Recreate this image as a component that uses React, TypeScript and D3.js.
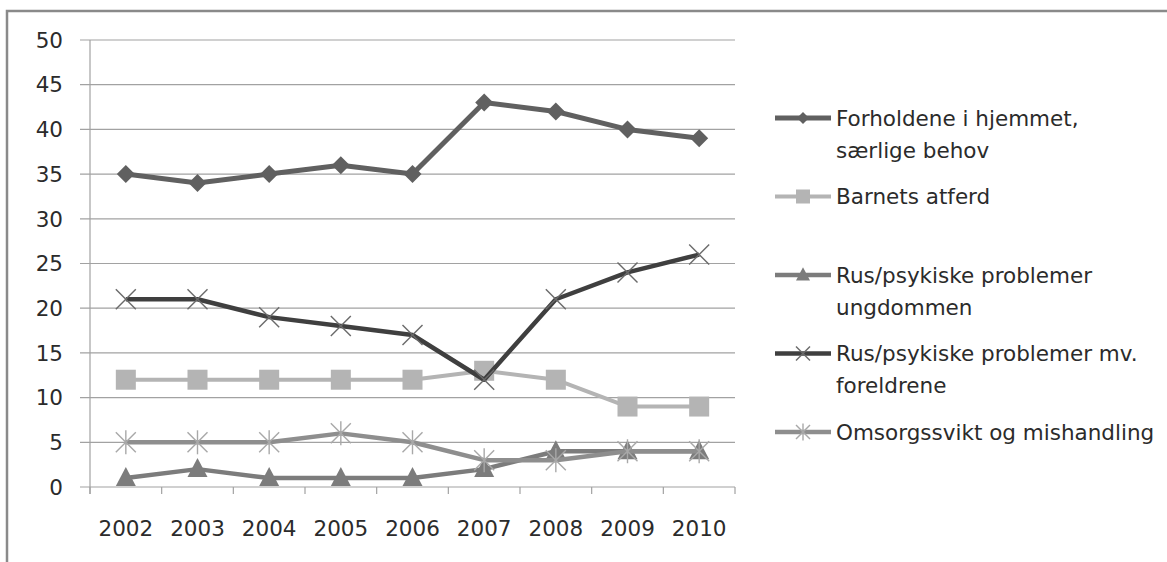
import React from "react";
import * as d3 from "d3";

const years = ["2002", "2003", "2004", "2005", "2006", "2007", "2008", "2009", "2010"];
const forholdene = [35, 34, 35, 36, 35, 43, 42, 40, 39];
const barnetsAtferd = [12, 12, 12, 12, 12, 13, 12, 9, 9];
const rusUngdommen = [1, 2, 1, 1, 1, 2, 4, 4, 4];
const rusForeldrene = [21, 21, 19, 18, 17, 12, 21, 24, 26];
const omsorgssvikt = [5, 5, 5, 6, 5, 3, 3, 4, 4];
const yTicks = [0, 5, 10, 15, 20, 25, 30, 35, 40, 45, 50];

type Marker = "diamond" | "square" | "triangle" | "x" | "star";

const series: { label: string[]; values: number[]; color: string; width: number; marker: Marker; markerColor: string }[] = [
  { label: ["Forholdene i hjemmet,", "særlige behov"], values: forholdene, color: "#606060", width: 5, marker: "diamond", markerColor: "#606060" },
  { label: ["Barnets atferd"], values: barnetsAtferd, color: "#b4b4b4", width: 4, marker: "square", markerColor: "#b4b4b4" },
  { label: ["Rus/psykiske problemer", "ungdommen"], values: rusUngdommen, color: "#7c7c7c", width: 4.5, marker: "triangle", markerColor: "#7c7c7c" },
  { label: ["Rus/psykiske problemer mv.", "foreldrene"], values: rusForeldrene, color: "#3f3f3f", width: 4.5, marker: "x", markerColor: "#6a6a6a" },
  { label: ["Omsorgssvikt og mishandling"], values: omsorgssvikt, color: "#8e8e8e", width: 4.5, marker: "star", markerColor: "#a8a8a8" },
];

const FONT = "'DejaVu Sans', sans-serif";
const FS = 21.5;
const TEXT = "#2b2b2b";

function MarkerShape({ type, x, y, s, color }: { type: Marker; x: number; y: number; s: number; color: string }) {
  switch (type) {
    case "diamond":
      return <path d={`M${x},${y - s}L${x + s},${y}L${x},${y + s}L${x - s},${y}Z`} fill={color} />;
    case "square":
      return <rect x={x - s} y={y - s} width={2 * s} height={2 * s} fill={color} />;
    case "triangle":
      return <path d={`M${x},${y - s * 1.1}L${x + s},${y + s * 0.8}L${x - s},${y + s * 0.8}Z`} fill={color} />;
    case "x":
      return (
        <g stroke={color} strokeWidth={1.4}>
          <line x1={x - s} y1={y - s} x2={x + s} y2={y + s} />
          <line x1={x - s} y1={y + s} x2={x + s} y2={y - s} />
        </g>
      );
    case "star":
      return (
        <g stroke={color} strokeWidth={1.4}>
          <line x1={x - s} y1={y - s} x2={x + s} y2={y + s} />
          <line x1={x - s} y1={y + s} x2={x + s} y2={y - s} />
          <line x1={x} y1={y - s * 1.2} x2={x} y2={y + s * 1.2} />
        </g>
      );
  }
}

export default function App() {
  const x = d3.scaleBand<string>().domain(years).range([90, 735]);
  const y = d3.scaleLinear().domain([0, 50]).range([487, 40]);
  const cx = (yr: string) => (x(yr) ?? 0) + x.bandwidth() / 2;
  const line = d3
    .line<number>()
    .x((_, i) => cx(years[i]))
    .y((d) => y(d));
  const markerSize: Record<Marker, number> = { diamond: 9, square: 10, triangle: 10, x: 10, star: 10 };
  const legendMarkerSize: Record<Marker, number> = { diamond: 6, square: 7, triangle: 7, x: 7, star: 7 };
  const legendY = d3.scalePoint<number>().domain(series.map((_, i) => i)).range([118, 432]);
  const ticksX = [...years.map((yr) => x(yr) ?? 0), 735];

  return (
    <div style={{ position: "absolute", left: 0, top: 0 }}>
      <svg width={1167} height={562} style={{ display: "block", background: "#fff" }}>
        <rect x={7} y={11} width={1200} height={600} fill="none" stroke="#8a8a8a" strokeWidth={2.5} />
        {yTicks.map((t) => (
          <line key={t} x1={80} x2={735} y1={y(t)} y2={y(t)} stroke="#a2a2a2" strokeWidth={1.2} />
        ))}
        <line x1={90} x2={90} y1={y(50)} y2={y(0) + 7} stroke="#a2a2a2" strokeWidth={1.2} />
        {ticksX.map((tx, i) => (
          <line key={i} x1={tx} x2={tx} y1={y(0)} y2={y(0) + 7} stroke="#a2a2a2" strokeWidth={1.2} />
        ))}
        {yTicks.map((t) => (
          <text key={t} x={63} y={y(t)} dy="0.36em" textAnchor="end" fontFamily={FONT} fontSize={FS} fill={TEXT}>
            {t}
          </text>
        ))}
        {years.map((yr) => (
          <text key={yr} x={cx(yr)} y={536} textAnchor="middle" fontFamily={FONT} fontSize={FS} fill={TEXT}>
            {yr}
          </text>
        ))}
        {series.map((s, si) => (
          <g key={si}>
            <path d={line(s.values) ?? ""} fill="none" stroke={s.color} strokeWidth={s.width} strokeLinejoin="round" />
            {s.values.map((v, i) => (
              <MarkerShape key={i} type={s.marker} x={cx(years[i])} y={y(v)} s={markerSize[s.marker]} color={s.markerColor} />
            ))}
          </g>
        ))}
        {series.map((s, si) => {
          const ly = legendY(si) ?? 0;
          return (
            <g key={si}>
              <line x1={775} x2={831} y1={ly} y2={ly} stroke={s.color} strokeWidth={s.width} />
              <MarkerShape type={s.marker} x={803} y={ly} s={legendMarkerSize[s.marker]} color={s.markerColor} />
              {s.label.map((l, li) => (
                <text key={li} x={836} y={ly + li * 32} dy="0.36em" fontFamily={FONT} fontSize={FS} fill={TEXT}>
                  {l}
                </text>
              ))}
            </g>
          );
        })}
      </svg>
    </div>
  );
}
